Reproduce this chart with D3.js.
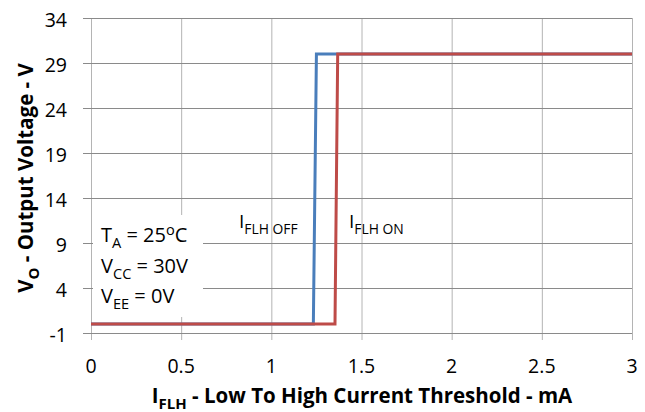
<!DOCTYPE html>
<html>
<head>
<meta charset="utf-8">
<script src="https://cdn.jsdelivr.net/npm/d3@7"></script>
<style>
  body { margin: 0; background: #fff; }
  text { font-family: "Open Sans", "Lato", sans-serif; fill: #000; }
</style>
</head>
<body>
<div id="chart"></div>
<script>
// values
const offX = [0, 1.233, 1.25, 3];
const offY = [0, 0, 30, 30];
const onX = [0, 1.353, 1.368, 3];
const onY = [0, 0, 30, 30];
const xTicks = [0, 0.5, 1, 1.5, 2, 2.5, 3];
const yTicks = [-1, 4, 9, 14, 19, 24, 29, 34];

const width = 645, height = 412;
const pLeft = 91, pRight = 632, pTop = 18, pBottom = 333;

const svg = d3.select("#chart").append("svg")
  .attr("width", width)
  .attr("height", height);

const x = d3.scaleLinear().domain([0, 3]).range([pLeft, pRight]);
const y = d3.scaleLinear().domain([-1, 34]).range([pBottom, pTop]);

// vertical grid (lighter) with ticks below
svg.append("g")
  .attr("transform", "translate(0," + pBottom + ")")
  .call(d3.axisBottom(x).tickValues(xTicks).tickSizeOuter(0).tickFormat(""))
  .call(g => g.select(".domain").remove())
  .call(g => g.selectAll("line").attr("stroke", "#b4b4b4").attr("y1", -(pBottom - pTop)).attr("y2", 7));

// horizontal grid with ticks to the left
svg.append("g")
  .attr("transform", "translate(" + pLeft + ",0)")
  .call(d3.axisLeft(y).tickValues(yTicks).tickSizeOuter(0).tickFormat(""))
  .call(g => g.select(".domain").remove())
  .call(g => g.selectAll("line").attr("stroke", "#8a8a8a").attr("x1", -8).attr("x2", pRight - pLeft));

// tick labels
svg.append("g").selectAll("text").data(yTicks).enter().append("text")
  .attr("x", 67).attr("y", d => y(d) + 8.5)
  .attr("text-anchor", "end").attr("font-size", 19.5)
  .text(d => d);
svg.append("g").selectAll("text").data(xTicks).enter().append("text")
  .attr("x", d => x(d)).attr("y", 373)
  .attr("text-anchor", "middle").attr("font-size", 19.5)
  .text(d => d);

// white box behind conditions
svg.append("rect").attr("x", 93).attr("y", 215).attr("width", 110).attr("height", 102).attr("fill", "#fff");

const line = d3.line().x(d => x(d[0])).y(d => y(d[1]));
svg.append("path").datum(offX.map((v, i) => [v, offY[i]]))
  .attr("d", line).attr("fill", "none").attr("stroke", "#4a7ebb").attr("stroke-width", 3);
svg.append("path").datum(onX.map((v, i) => [v, onY[i]]))
  .attr("d", line).attr("fill", "none").attr("stroke", "#be4b48").attr("stroke-width", 3);

// helper for text with subscript/superscript parts
function rich(g, xp, yp, parts, size, weight) {
  const t = g.append("text").attr("x", xp).attr("y", yp).attr("font-size", size).attr("font-weight", weight || "normal");
  parts.forEach(p => {
    const s = t.append("tspan").text(p[0]);
    if (p[1] === "sub") s.attr("font-size", size * 0.73).attr("dy", 6);
    else if (p[1] === "sup") s.attr("font-size", size * 0.73).attr("dy", -7);
    else if (p[1] === "back") s.attr("dy", p[2]);
  });
  return t;
}

// series labels
const lab = svg.append("g");
rich(lab, 239, 228, [["I"], ["FLH OFF", "sub"]], 19);
rich(lab, 349, 228, [["I"], ["FLH ON", "sub"]], 19);

// conditions
rich(lab, 101, 242, [["T"], ["A", "sub"], [" = 25", "back", -6], ["o", "sup"], ["C", "back", 7]], 20);
rich(lab, 101, 273, [["V"], ["CC", "sub"], [" = 30V", "back", -6]], 20);
rich(lab, 101, 303, [["V"], ["EE", "sub"], [" = 0V", "back", -6]], 20);

// axis titles
const xt = svg.append("text").attr("x", 362).attr("y", 403).attr("text-anchor", "middle")
  .attr("font-size", 20.5).attr("font-weight", "bold");
xt.append("tspan").text("I");
xt.append("tspan").text("FLH").attr("font-size", 15).attr("dy", 6);
xt.append("tspan").text(" - Low To High Current Threshold - mA").attr("dy", -6);

const yt = svg.append("text").attr("transform", "translate(33,178) rotate(-90)").attr("text-anchor", "middle")
  .attr("font-size", 20.5).attr("font-weight", "bold");
yt.append("tspan").text("V");
yt.append("tspan").text("O").attr("font-size", 15).attr("dy", 6);
yt.append("tspan").text(" - Output Voltage - V").attr("dy", -6);
</script>
</body>
</html>
